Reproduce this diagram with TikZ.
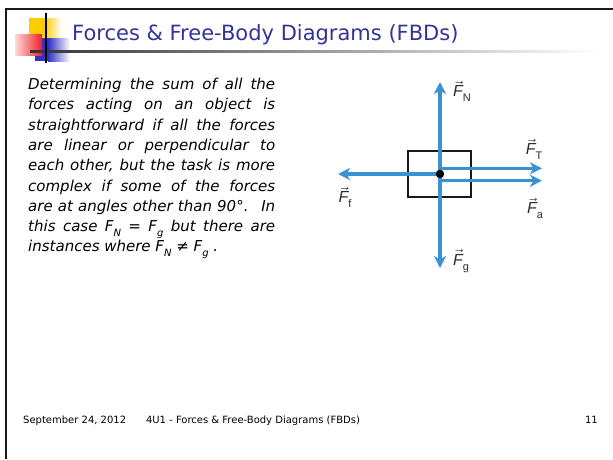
\documentclass[tikz,border=0pt]{standalone}
\usepackage{fontspec}
\setmainfont{DejaVu Sans}
\newfontfamily\lblfont{Liberation Sans}
\usetikzlibrary{arrows.meta}
\definecolor{titleblue}{RGB}{51,51,153}
\definecolor{forceblue}{RGB}{58,146,210}
\definecolor{lblgray}{RGB}{45,45,45}
\definecolor{logoyellow}{RGB}{255,204,0}
\definecolor{logored}{RGB}{240,30,40}
\definecolor{logoblue}{RGB}{50,50,200}
\newcommand\vF{\ensuremath{\vec{\mbox{\itshape F}}}}
\newcommand\lsub[1]{\raisebox{-0.55ex}{\fontsize{11}{11}\selectfont #1}}
\newcommand\bsub[1]{\raisebox{-0.55ex}{\fontsize{10}{10}\selectfont #1}}
\tikzset{
  bodyline/.style={inner sep=0pt, anchor=base west, font=\fontsize{15}{20}\selectfont\itshape, text=black},
  lbl/.style={inner sep=0pt, font=\lblfont\fontsize{16}{16}\selectfont, text=lblgray},
  force/.style={draw=forceblue, line width=3.3pt, -{Stealth[length=12pt,width=12pt,inset=3.5pt]}},
  foot/.style={inner sep=0pt, anchor=base, font=\fontsize{10}{12}\selectfont, text=black},
}
\begin{document}
\begin{tikzpicture}[x=1pt,y=-1pt]
\useasboundingbox (0,0) rectangle (613,459);
\fill[white] (0,0) rectangle (613,459);
% slide border
\draw[line width=2.5pt, black!90] (6,459) -- (6,9.2) -- (613,9.2);
% logo
\fill[logoyellow] (29,18) rectangle (44,37);
\shade[left color=logoyellow, right color=white] (44,18) rectangle (62,37);
\fill[logoblue] (35,38) rectangle (48,61);
\shade[left color=logoblue, right color=white] (48,38) rectangle (70,61);
\shade[left color=red!15, right color=logored] (15,34) rectangle (42,55);
\shade[left color=black!80, right color=white] (30,50.8) rectangle (600,52.4);
\draw[line width=1.6pt, black] (46,13) -- (46,63);
% title
\node[inner sep=0pt, anchor=base west, font=\fontsize{21}{24}\selectfont, text=titleblue] (title) at (72,40) {Forces \& Free-Body Diagrams (FBDs)};
% body text
\node[bodyline] (l1) at (28,89.5) {\makebox[247pt][s]{Determining the sum of all the}};
\node[bodyline] (l2) at (28,109.8) {\makebox[247pt][s]{forces acting on an object is}};
\node[bodyline] (l3) at (28,130.1) {\makebox[247pt][s]{straightforward if all the forces}};
\node[bodyline] (l4) at (28,150.4) {\makebox[247pt][s]{are linear or perpendicular to}};
\node[bodyline] (l5) at (28,170.7) {\makebox[247pt][s]{each other, but the task is more}};
\node[bodyline] (l6) at (28,191.0) {\makebox[247pt][s]{complex if some of the forces}};
\node[bodyline] (l7) at (28,211.3) {\makebox[247pt][s]{are at angles other than 90°.~ In}};
\node[bodyline] (l8) at (28,231.6) {\makebox[247pt][s]{this case F\bsub{N} = F\bsub{g} but there are}};
\node[bodyline] (l9) at (28,251.9) {instances where F\bsub{N} ≠ F\bsub{g} .};
% free-body diagram
\node[draw=black!90, line width=2pt, minimum width=63pt, minimum height=46pt, inner sep=0pt] (box) at (439.5,174) {};
\coordinate (c) at (440,174);
\coordinate (nTip) at (440,82);
\coordinate (gTip) at (440,268);
\coordinate (fTip) at (338,174);
\coordinate (tStart) at (440,168.3);
\coordinate (tTip) at (542,168.3);
\coordinate (aStart) at (440,180.7);
\coordinate (aTip) at (542,180.7);
\draw[force] (c) -- (nTip);
\draw[force] (c) -- (gTip);
\draw[force] (c) -- (fTip);
\draw[force] (tStart) -- (tTip);
\draw[force] (aStart) -- (aTip);
\fill[black] (c) circle (4.2pt);
\node[lbl] (FN) at (462,91) {\vF\lsub{N}};
\node[lbl] (FT) at (534,149) {\vF\lsub{T}};
\node[lbl] (Ff) at (345,197) {\vF\lsub{f}};
\node[lbl] (Fa) at (535,208) {\vF\lsub{a}};
\node[lbl] (Fg) at (461,261) {\vF\lsub{g}};
% footer
\node[foot, anchor=base west] (date) at (23,423) {September 24, 2012};
\node[foot] (course) at (253,423) {4U1 - Forces \& Free-Body Diagrams (FBDs)};
\node[foot, anchor=base east] (page) at (598,423) {11};
\end{tikzpicture}
\end{document}
